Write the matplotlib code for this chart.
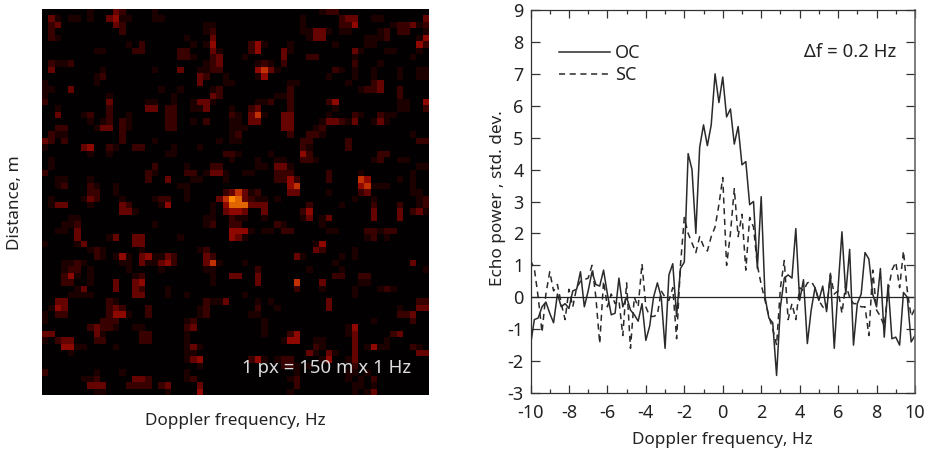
import numpy as np
import matplotlib
matplotlib.use('Agg')
import matplotlib.pyplot as plt
from matplotlib.colors import ListedColormap
from matplotlib.ticker import MultipleLocator

plt.rcParams['font.family'] = ['Noto Sans', 'DejaVu Sans']
plt.rcParams['axes.unicode_minus'] = False

# echo power, one value every 0.2 Hz from -10 to 10
oc_power = [-1.5, -0.7, -0.65, -0.3, -0.15, -0.5, -0.8, 0.1, -0.3, -0.2,
            -0.35, 0.2, 0.25, 0.8, -0.3, 0.2, 0.8, 0.4, 0.35, 0.85,
            0.1, -0.55, -0.5, 0.6, -0.3, 0.0, -0.4, -0.55, -0.75, -0.2,
            -1.35, -0.9, 0.0, 0.45, 0.0, -1.6, 0.7, 1.05, -0.6, 0.9,
            1.1, 4.5, 4.0, 2.0, 4.7, 5.4, 4.75, 5.4, 7.0, 6.1,
            6.9, 5.65, 5.9, 4.8, 5.35, 4.15, 4.25, 2.9, 3.0, 0.9,
            3.15, 0.0, -0.65, -0.8, -2.45, -0.3, 0.6, 0.7, 0.6, 2.15,
            -0.1, 0.55, -1.45, -0.4, 0.3, -0.1, 0.35, -0.45, 0.75, -1.6,
            0.3, 2.05, 0.1, 1.5, -1.5, -0.2, 0.1, 1.4, 1.2, 0.1,
            -0.3, 0.9, -1.25, 0.4, -1.3, -1.25, -1.5, 0.15, 0.0, -1.4,
            -1.2]
sc_power = [1.15, 0.9, 0.0, -1.1, 0.1, 0.8, 0.2, 0.4, -0.2, -0.7,
            0.25, -0.3, 0.3, 0.5, 0.55, 0.6, 1.0, 0.0, -1.45, 0.5,
            -0.3, 0.1, -0.2, -0.1, -1.2, 0.45, -1.6, 0.0, -0.3, 1.05,
            -0.3, -0.6, -0.6, -0.55, 0.2, 0.0, -0.1, 0.3, -1.3, 1.0,
            2.5, 2.0, 1.7, 1.4, 1.9, 1.6, 1.45, 1.9, 2.2, 2.9,
            3.75, 1.0, 2.0, 3.4, 1.9, 2.6, 0.85, 2.5, 2.2, 1.0,
            0.4, -0.1, -0.6, -1.0, -1.5, 0.3, 1.15, -0.7, -0.2, -0.7,
            0.3, 0.2, 0.45, 0.5, 0.3, -0.1, -0.3, -0.4, 0.7, 0.1,
            0.2, -0.5, 0.4, 0.0, -0.2, -0.2, -0.3, -0.3, -1.2, 0.85,
            -0.4, -0.6, -0.9, 0.2, 0.85, 1.1, 0.3, 1.45, 0.2, -0.6,
            -0.35]
freq_start = -10
freq_step = 0.2

# radar image brightness levels, 60 rows x 60 columns
image_rows = [
    "0000000100 0320000100 0000000000 0000000000 0001220000 0000000000",
    "0310110100 3411000110 0000000000 0000000000 1000002330 0110000003",
    "0230000000 0320000000 0000011000 0000000000 1000002240 0000122312",
    "0200000000 0020000000 0000012000 0000000000 1133101100 0012022001",
    "0210000000 0000000000 0010003000 0000000000 0133000000 1112000014",
    "0000000000 0001020000 0001014000 0024100010 0000010000 1100000042",
    "0000000011 0000220000 0220003100 0024000310 0000000031 0001100010",
    "0000000000 0000000000 0221002300 0100000300 0220000010 0000000100",
    "0211200000 0000000000 0000012300 0001210200 0000000020 0010000000",
    "0300000001 0000000100 0300112200 0004531000 0000021010 0100010011",
    "0000000012 0000000000 0000320010 0001400000 0000100010 0100010011",
    "1000000010 0000000000 0000300011 0000000011 0000000100 0230000000",
    "1100300000 0000000010 0100001200 0000000020 0000000001 2230020000",
    "1000000000 1000000000 1000003200 0000001120 0000000000 0000020000",
    "2000000000 3000001100 1001331000 0001120020 0000240000 0000011004",
    "0010000000 2000003302 2001130001 0023000020 0000010000 0000011002",
    "0030001200 2001000002 2000000002 1035100330 0000100021 0021100000",
    "0000000101 2021000002 2001020001 1033000330 0001332130 0131000000",
    "0022000013 3021000002 2000000001 1100000330 0012000000 0000000000",
    "0211000000 0020000000 0000000001 2000000020 0221000000 0000000100",
    "3202000000 0020000100 0000000101 1000000000 2200000200 0000000022",
    "1000003400 2100220000 1000100000 0000000000 2100000200 0000000000",
    "0000000100 1000000001 1000000022 1000010000 4200000000 0022000000",
    "0100000000 0000000000 0000000001 0001001100 2210000000 0120011000",
    "0100000000 0000000200 0010002200 0001103310 0000000000 0000000011",
    "2000000000 0000002100 0022013310 0110002220 0000200001 0000000100",
    "0011000100 0000002003 0001100010 0000002242 0000200005 4000010100",
    "0012000210 0100000000 0110000000 0000000045 0000000004 5111000100",
    "0000000220 0100000000 0010000023 5312000033 0000100002 3000000110",
    "0100001320 0010000122 0010000357 6321101000 0000000010 0100000012",
    "0133000100 0032000014 0000001046 6633300000 0200001000 0200020012",
    "0000000000 0033100000 0000001034 4300300000 2400000000 0300030231",
    "0000110000 0000000000 0000011002 1100100000 1301300000 0300030000",
    "0001120000 0000000100 0000012002 2000002100 0001000000 0000000000",
    "0011030000 0000000000 0000000004 4410110220 0000110000 2212200000",
    "0000030000 1300330000 0100000004 3100000000 0000000000 1201000000",
    "1000013000 0000330000 0000000000 0000000000 0014000000 0000000000",
    "0000000121 0000010000 0000120000 0000000000 0032000010 0000000000",
    "0000000021 0141034113 2000032000 0000000003 1000001010 0000000000",
    "0001121000 0011031134 2000035100 0100000000 0000010000 0000000300",
    "0001220100 0001000010 0000011000 0002000000 0100001000 0000000001",
    "0002410100 0000120000 0000001003 3003000000 0000022002 2000000000",
    "0002200100 0300340000 0000001000 0003000005 0003000001 1000000000",
    "0000013000 0300320001 0000000000 0000000002 0001000010 0012100000",
    "0000111100 0000330001 0010000000 0100000000 0000000010 0000000000",
    "0033000000 2100000000 0000021130 0001010000 0000300000 0000000022",
    "0143000000 2320002000 0000120000 0002001000 0000300000 0000010033",
    "1022000000 2441002000 0000120000 0011000000 0000000000 0000022300",
    "1000000002 2200000000 0012000000 0000100000 0000000000 0100000200",
    "0000000232 2100110000 0023000000 0000100000 0000000140 0000000000",
    "3300000031 0000022000 0010000000 0000100024 0000000130 0000230000",
    "1023300022 0000022000 0010000000 0000000144 0011000030 0001000000",
    "0004411000 0100000000 0013100000 0000000000 0021000030 1411000210",
    "0000100000 0000000000 0011000000 0000000000 0310310030 0000000033",
    "0000000000 0000000000 0013400000 0024101220 0001400130 0000000000",
    "0000000000 0000000000 0000100000 0000000221 0100000020 0000000000",
    "2000000010 0010000000 0010000000 0000000001 0000000110 1000000000",
    "0000001120 0000332000 0012000000 0000000012 0000000101 0200000000",
    "0000000333 0002222023 0000300000 0000000002 0000000011 0100000000",
    "0000000011 0000000001 0000400000 0000000010 0000000010 1300000000",
]
image_colors = ['#020000', '#1c0000', '#380100', '#640300', '#8e0800',
                '#c03000', '#e06400', '#ff8c00']

W, H = 934, 455
fig = plt.figure(figsize=(W / 100, H / 100), dpi=100)

def axes_px(x0, y0, x1, y1):
    return fig.add_axes([x0 / W, 1 - y1 / H, (x1 - x0) / W, (y1 - y0) / H])

# left panel: radar image
ax1 = axes_px(42, 9, 429, 395)
image = np.array([[int(c) for c in row.replace(' ', '')] for row in image_rows])
ax1.imshow(image, cmap=ListedColormap(image_colors), vmin=-0.5, vmax=7.5,
           interpolation='nearest', aspect='auto')
ax1.set_xticks([])
ax1.set_yticks([])
for s in ax1.spines.values():
    s.set_visible(False)
ax1.text(0.953, 0.07, '1 px = 150 m x 1 Hz', transform=ax1.transAxes, color='#dddddd',
         fontsize=13.4, ha='right', va='center')
fig.text(235.5 / W, 1 - 421 / H, 'Doppler frequency, Hz', fontsize=12.3, color='#222222',
         ha='center', va='center')
fig.text(15 / W, 1 - 203 / H, 'Distance, m', fontsize=12.3, color='#222222',
         rotation=90, ha='center', va='center')

# right panel: spectra
ax2 = axes_px(530.5, 10, 915, 393)
freq = freq_start + freq_step * np.arange(len(oc_power))
ax2.plot(freq, oc_power, color='#2a2a2a', lw=1.1, label='OC')
ax2.plot(freq, sc_power, color='#2a2a2a', lw=1.1, ls=(0, (4, 3)), label='SC')
ax2.axhline(0, color='#222222', lw=0.9)
ax2.set_xlim(-10, 10)
ax2.set_ylim(-3, 9)
ax2.xaxis.set_major_locator(MultipleLocator(2))
ax2.xaxis.set_minor_locator(MultipleLocator(1))
ax2.yaxis.set_major_locator(MultipleLocator(1))
ax2.tick_params(axis='x', which='major', direction='in', top=True, length=5.5, width=0.9,
                labelsize=13, pad=8, color='#333333', labelcolor='#222222')
ax2.tick_params(axis='x', which='minor', direction='in', top=True, length=3, width=0.9,
                color='#333333')
ax2.tick_params(axis='y', which='major', direction='in', right=True, length=6.5, width=0.9,
                labelsize=13, pad=5, color='#333333', labelcolor='#222222')
for s in ax2.spines.values():
    s.set_linewidth(0.9)
    s.set_color('#333333')
ax2.spines['right'].set_color('#666666')
ax2.spines['right'].set_linewidth(1.2)
ax2.set_xlabel('Doppler frequency, Hz', fontsize=12.3, color='#222222', labelpad=7)
ax2.set_ylabel('Echo power , std. dev.', fontsize=12.3, color='#222222', labelpad=1, y=0.51)
ax2.legend(loc='upper left', bbox_to_anchor=(0.074, 0.91), frameon=False, fontsize=13,
           handlelength=2.8, handletextpad=0.3, labelspacing=0.2, borderpad=0, borderaxespad=0,
           labelcolor='#222222')
ax2.text(0.95, 0.89, '\u0394f = 0.2 Hz', transform=ax2.transAxes, fontsize=13.4,
         color='#222222', ha='right', va='center')

plt.savefig('out.png', dpi=100)
